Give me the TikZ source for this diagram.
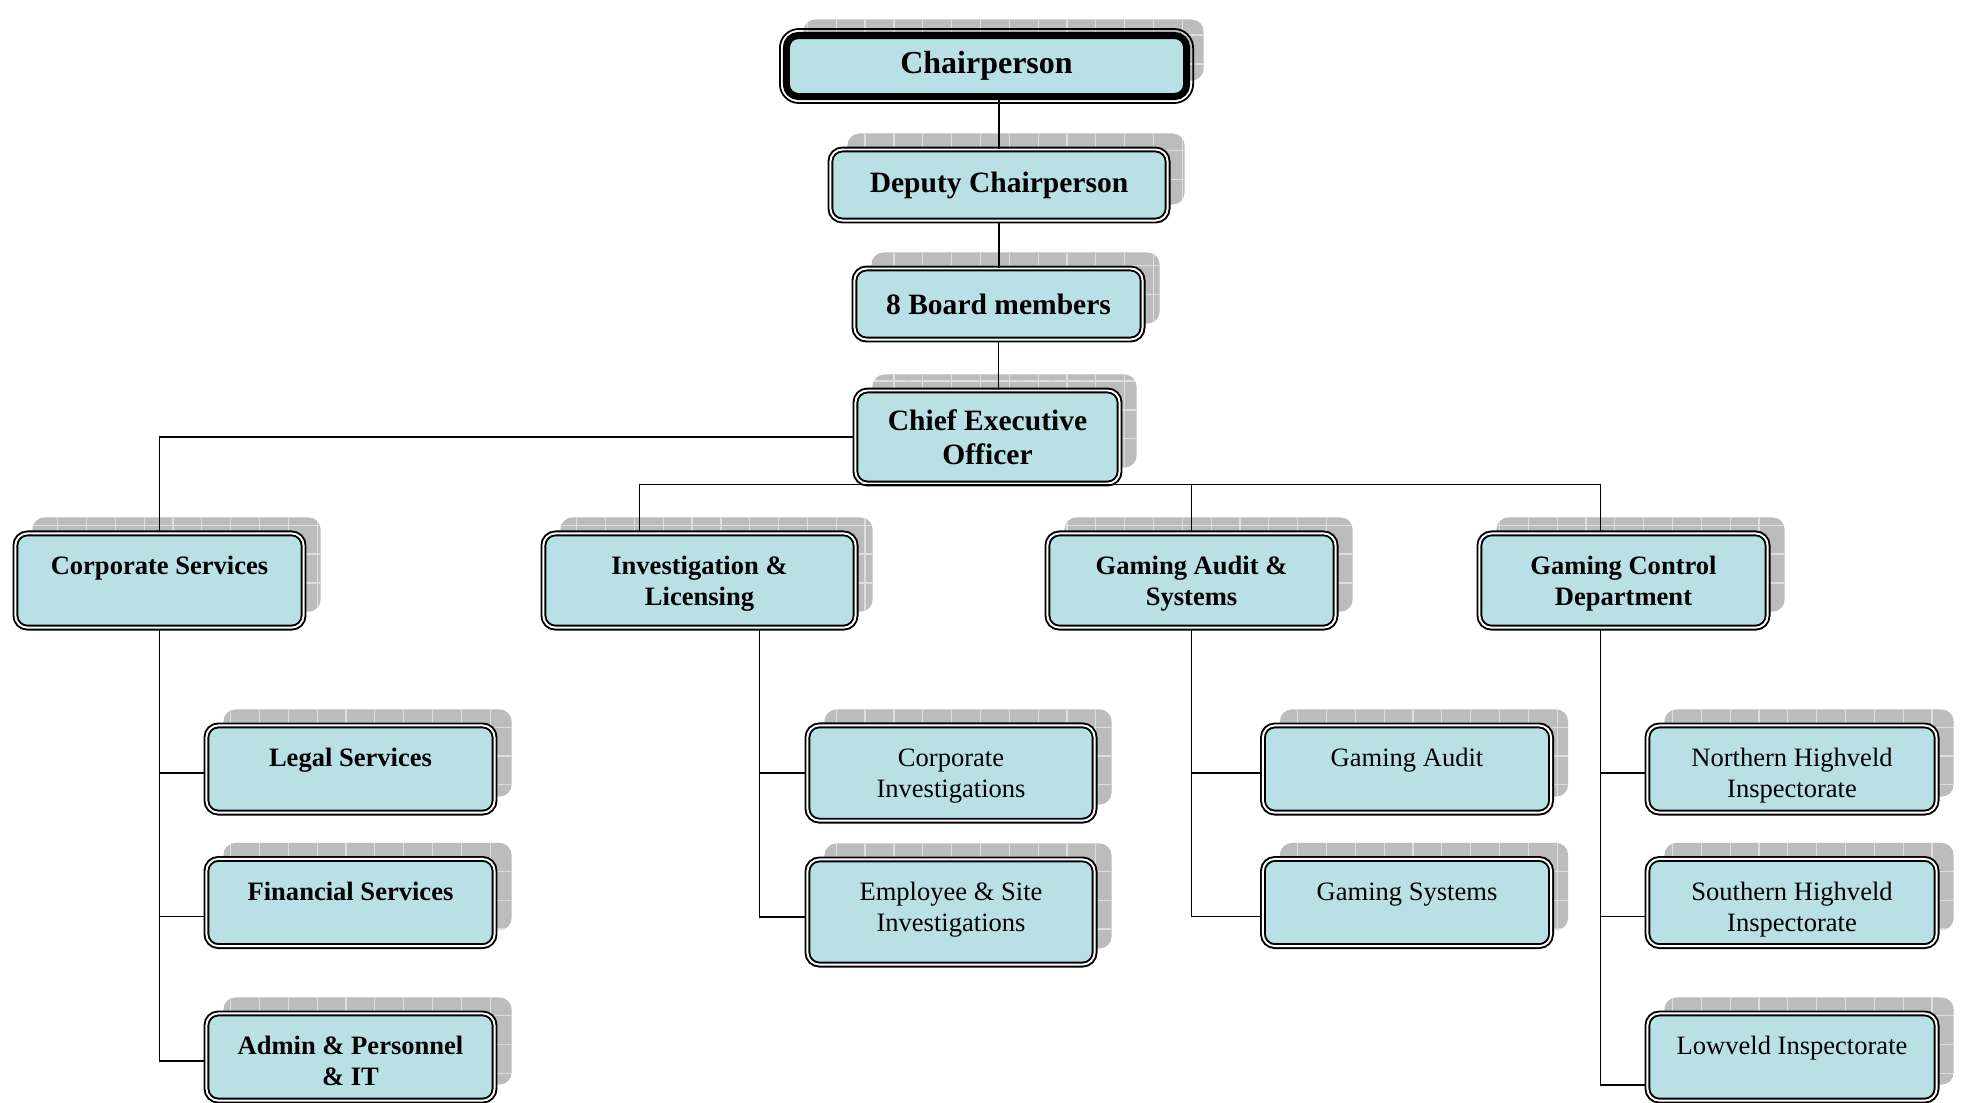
\documentclass[tikz,border=0pt]{standalone}
\usepackage{fontspec}
\setmainfont{Liberation Serif}
\usepackage{tikz}
\usetikzlibrary{shapes,positioning,calc,shadows,patterns.meta}

\definecolor{boxfill}{RGB}{185,224,228}
\definecolor{shadowgrey}{RGB}{188,188,188}
\definecolor{gridgrey}{RGB}{222,222,222}

\tikzset{
  boxshadow/.style={
    general shadow={shadow xshift=.17cm, shadow yshift=.16cm, fill=shadowgrey},
    general shadow={shadow xshift=.17cm, shadow yshift=.16cm,
      pattern={Hatch[distance=8.2pt, line width=.35pt]}, pattern color=gridgrey}},
  link/.style={line width=.5pt}
}

\begin{document}
\begin{tikzpicture}[x=0.01cm, y=-0.01cm]
    \tikzstyle{unit} = [draw, line width=.55pt, double=white, double distance=.55pt,
        rounded corners=1.2mm, fill=boxfill, inner sep=0pt, align=center, boxshadow]
    \tikzstyle{chairbox} = [draw, line width=2pt, rounded corners=1.2mm, fill=boxfill,
        inner sep=0pt, boxshadow, font=\bfseries\fontsize{9.1}{11}\selectfont]
    \tikzstyle{board} = [unit, font=\bfseries\fontsize{8.4}{9.6}\selectfont]
    \tikzstyle{dept} = [unit, font=\bfseries\fontsize{7.55}{8.9}\selectfont,
        minimum width=2.88cm, text height=11.7pt, text depth=15.1pt]
    \tikzstyle{deptb} = [dept, text height=20.6pt, text depth=6.2pt]
    \tikzstyle{section} = [unit, font=\fontsize{7.55}{8.9}\selectfont,
        minimum width=2.88cm, text height=11.7pt, text depth=13.1pt]
    \tikzstyle{sectionb} = [section, text height=20.6pt, text depth=4.2pt]
    \tikzstyle{bsection} = [section, font=\bfseries\fontsize{7.55}{8.9}\selectfont]

    \useasboundingbox (0,0) rectangle (1964,1102);

    \node (chair) [chairbox, minimum width=4cm, minimum height=.61cm] at (986.5,66) {Chairperson};
    \draw [line width=.5pt, rounded corners=1.9mm] ($(chair.north west)+(-3,-3)$) rectangle ($(chair.south east)+(3,3)$);
    \node (deputy) [board, minimum width=3.37cm, minimum height=.71cm] at (999,185) {Deputy Chairperson};
    \node (members) [board, minimum width=2.88cm, minimum height=.71cm] at (998.5,304) {8 Board members};
    \node (ceo) [board, minimum width=2.64cm, minimum height=.93cm] at (987.5,437) {Chief Executive\\ Officer};

    \node (corp) [dept] at (159.5,580.5) {Corporate Services};
    \node (invlic) [deptb, minimum width=3.12cm] at (699.5,580.5) {Investigation \&\\ Licensing};
    \node (audsys) [deptb] at (1191.5,580.5) {Gaming Audit \&\\ Systems};
    \node (control) [deptb] at (1623.5,580.5) {Gaming Control\\ Department};

    \node (legal) [bsection] at (350.5,769) {Legal Services};
    \node (finance) [bsection] at (350.5,902.5) {Financial Services};
    \node (admin) [bsection, text height=20.6pt, text depth=4.2pt] at (350.5,1057) {Admin \& Personnel\\ \& IT};

    \node (corpinv) [sectionb, minimum width=2.87cm, text depth=6.5pt] at (951,773) {Corporate\\ Investigations};
    \node (siteinv) [sectionb, minimum width=2.87cm, text depth=9.3pt] at (951,912) {Employee \& Site\\ Investigations};

    \node (audit) [section] at (1407,769) {Gaming Audit};
    \node (systems) [section] at (1407,902.5) {Gaming Systems};

    \node (northhv) [sectionb, minimum width=2.89cm] at (1792,769) {Northern Highveld\\ Inspectorate};
    \node (southhv) [sectionb, minimum width=2.89cm] at (1792,902.5) {Southern Highveld\\ Inspectorate};
    \node (lowveld) [section, minimum width=2.89cm] at (1792,1057) {Lowveld Inspectorate};

    \draw [link] (chair.south -| deputy.north) -- (deputy.north);
    \draw [link] (deputy.south) -- (deputy.south |- members.north);
    \draw [link] (members.south) -- (members.south |- ceo.north);
    \draw [link] (ceo.west) -| (corp.north);
    \draw [link] ($(invlic.north)+(-60,0)$) |- (ceo.south) -| ($(control.north)+(-23,0)$);
    \draw [link] (audsys.north) -- (audsys.north |- ceo.south);

    \draw [link] ($(legal.west)+(0,4)$) -| (corp.south);
    \draw [link] ($(finance.west)+(0,14)$) -| (corp.south);
    \draw [link] ($(admin.west)+(0,4)$) -| (corp.south);

    \draw [link] (corpinv.west) -| ($(invlic.south)+(60,0)$);
    \draw [link] ($(siteinv.west)+(0,5)$) -| ($(invlic.south)+(60,0)$);

    \draw [link] ($(audit.west)+(0,4)$) -| (audsys.south);
    \draw [link] ($(systems.west)+(0,14)$) -| (audsys.south);

    \draw [link] ($(northhv.west)+(0,4)$) -| ($(control.south)+(-23,0)$);
    \draw [link] ($(southhv.west)+(0,14)$) -| ($(control.south)+(-23,0)$);
    \draw [link] ($(lowveld.west)+(0,28)$) -| ($(control.south)+(-23,0)$);
\end{tikzpicture}
\end{document}
